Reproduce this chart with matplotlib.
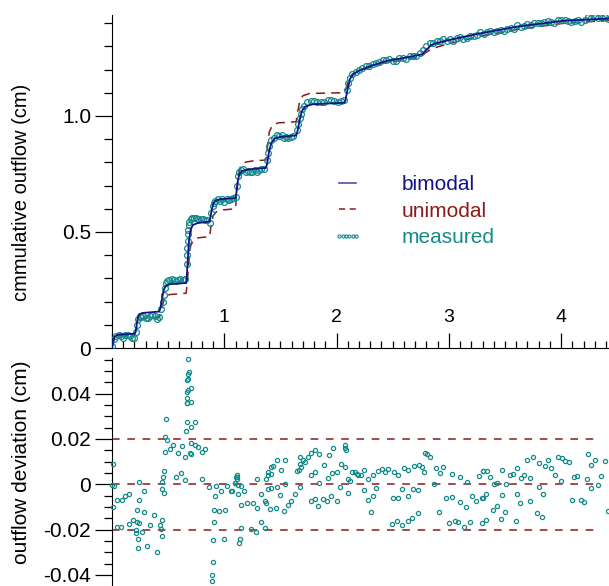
import matplotlib
matplotlib.use("Agg")
import matplotlib.pyplot as plt
from matplotlib.lines import Line2D
from matplotlib.ticker import MultipleLocator, FuncFormatter

plt.rcParams['font.family'] = ['Liberation Sans', 'DejaVu Sans']
plt.rcParams['axes.unicode_minus'] = False

# ---------------- data ----------------
t_bimodal = [0.0, 0.01, 0.025, 0.06, 0.20,
             0.21, 0.22, 0.23, 0.245, 0.27, 0.42,
             0.43, 0.445, 0.46, 0.48, 0.51, 0.66,
             0.665, 0.675, 0.685, 0.70, 0.72, 0.76, 0.87,
             0.875, 0.89, 0.905, 0.93, 0.98, 1.10,
             1.105, 1.12, 1.135, 1.16, 1.22, 1.37,
             1.38, 1.40, 1.42, 1.45, 1.50, 1.64,
             1.65, 1.67, 1.69, 1.72, 1.78, 2.07,
             2.08, 2.10, 2.12, 2.15, 2.20, 2.30, 2.45, 2.60, 2.76, 2.80, 2.84, 2.90,
             2.98, 3.28, 3.61, 4.02, 4.43]
q_bimodal = [0.0, 0.03, 0.05, 0.058, 0.061,
             0.07, 0.10, 0.13, 0.145, 0.151, 0.157,
             0.17, 0.21, 0.25, 0.268, 0.275, 0.28,
             0.30, 0.38, 0.46, 0.51, 0.53, 0.538, 0.545,
             0.56, 0.60, 0.625, 0.637, 0.642, 0.646,
             0.66, 0.72, 0.75, 0.763, 0.77, 0.776,
             0.79, 0.85, 0.885, 0.903, 0.91, 0.916,
             0.93, 0.98, 1.02, 1.04, 1.05, 1.057,
             1.07, 1.12, 1.16, 1.18, 1.195, 1.215, 1.238, 1.25, 1.265, 1.285, 1.305, 1.315,
             1.325, 1.356, 1.385, 1.41, 1.42]

t_unimodal = [0.0, 0.015, 0.035, 0.07, 0.20, 0.21, 0.225, 0.24, 0.27, 0.42,
              0.435, 0.455, 0.475, 0.51, 0.66, 0.67, 0.685, 0.70, 0.725, 0.77,
              0.87, 0.88, 0.90, 0.93, 0.99, 1.10, 1.11, 1.125, 1.145, 1.18,
              1.25, 1.37, 1.38, 1.40, 1.43, 1.48, 1.64, 1.65, 1.675, 1.70,
              1.76, 2.07, 2.085, 2.11, 2.14, 2.20, 2.40, 2.75, 2.80, 2.85,
              3.0, 3.3, 3.6, 4.0, 4.43]
q_unimodal = [0.0, 0.03, 0.048, 0.052, 0.055, 0.07, 0.10, 0.118, 0.127, 0.131,
              0.15, 0.195, 0.22, 0.23, 0.236, 0.28, 0.38, 0.44, 0.465, 0.475,
              0.48, 0.52, 0.57, 0.587, 0.595, 0.60, 0.66, 0.74, 0.785, 0.80,
              0.806, 0.81, 0.85, 0.93, 0.962, 0.97, 0.975, 1.01, 1.07, 1.087,
              1.097, 1.10, 1.12, 1.16, 1.18, 1.195, 1.225, 1.255, 1.275, 1.29,
              1.312, 1.345, 1.372, 1.398, 1.412]

t_measured = [0.0, 0.02, 0.04, 0.06, 0.08, 0.10, 0.12, 0.14, 0.16, 0.18, 0.20,
              0.215, 0.225, 0.235, 0.245,
              0.26, 0.28, 0.30, 0.32, 0.34, 0.36, 0.38, 0.40, 0.42,
              0.44, 0.45, 0.46, 0.47, 0.48, 0.49,
              0.51, 0.53, 0.55, 0.57, 0.59, 0.61, 0.63, 0.65,
              0.665, 0.668, 0.671, 0.674, 0.677, 0.68, 0.685, 0.69, 0.70, 0.71,
              0.73, 0.75, 0.77, 0.79, 0.81, 0.83, 0.85,
              0.87, 0.885, 0.895, 0.905, 0.92,
              0.94, 0.96, 0.98, 1.0, 1.02, 1.04, 1.06, 1.08, 1.10,
              1.11, 1.12, 1.13,
              1.15, 1.17, 1.19, 1.21, 1.23, 1.25, 1.27, 1.29, 1.31, 1.33, 1.35,
              1.38, 1.39, 1.40, 1.42, 1.44,
              1.47, 1.49, 1.51, 1.53, 1.55, 1.57, 1.59, 1.61,
              1.65, 1.66, 1.67, 1.68, 1.69, 1.71,
              1.74, 1.77, 1.80, 1.83, 1.86, 1.89, 1.92, 1.95, 1.98, 2.01, 2.04, 2.07,
              2.09, 2.10, 2.12, 2.14,
              2.17, 2.20, 2.23, 2.26, 2.29, 2.32, 2.35, 2.38, 2.41, 2.44, 2.47, 2.50,
              2.53, 2.56, 2.59, 2.62, 2.65, 2.68, 2.71, 2.74, 2.77, 2.80, 2.83, 2.86,
              2.89, 2.92, 2.95, 2.98, 3.01, 3.04, 3.07, 3.10, 3.13, 3.16, 3.19, 3.22,
              3.25, 3.28, 3.31, 3.34, 3.37, 3.40, 3.43, 3.46, 3.49, 3.52, 3.55, 3.58,
              3.61, 3.64, 3.67, 3.70, 3.73, 3.76, 3.79, 3.82, 3.85, 3.88, 3.91, 3.94,
              3.97, 4.00, 4.03, 4.06, 4.09, 4.12, 4.15, 4.18, 4.21, 4.24, 4.27, 4.30,
              4.33, 4.36, 4.39, 4.42]
q_measured = [0.01, 0.04, 0.052, 0.058, 0.05, 0.045, 0.055, 0.056, 0.05, 0.045, 0.044,
              0.07, 0.10, 0.125, 0.14,
              0.135, 0.14, 0.13, 0.128, 0.14, 0.142, 0.138, 0.127, 0.135,
              0.17, 0.20, 0.23, 0.26, 0.28, 0.29,
              0.292, 0.296, 0.295, 0.29, 0.293, 0.297, 0.295, 0.297,
              0.36, 0.40, 0.43, 0.46, 0.49, 0.51, 0.53, 0.545, 0.555, 0.56,
              0.56, 0.56, 0.557, 0.555, 0.555, 0.552, 0.55,
              0.54, 0.58, 0.61, 0.625, 0.635,
              0.64, 0.632, 0.642, 0.628, 0.644, 0.638, 0.64, 0.645, 0.65,
              0.70, 0.74, 0.76,
              0.765, 0.77, 0.76, 0.762, 0.758, 0.76, 0.765, 0.76, 0.765, 0.77, 0.77,
              0.81, 0.84, 0.87, 0.895, 0.905,
              0.92, 0.915, 0.92, 0.905, 0.91, 0.905, 0.91, 0.913,
              0.94, 0.965, 0.99, 1.01, 1.03, 1.045,
              1.06, 1.063, 1.065, 1.06, 1.062, 1.058, 1.067, 1.07, 1.066, 1.062, 1.065, 1.07,
              1.11, 1.14, 1.165, 1.18,
              1.19, 1.20, 1.208, 1.214, 1.216, 1.222, 1.226, 1.232, 1.24, 1.24, 1.245, 1.236,
              1.235, 1.248, 1.25, 1.245, 1.258, 1.26, 1.26, 1.27, 1.285, 1.30, 1.315, 1.315,
              1.325, 1.323, 1.33, 1.325, 1.33, 1.325, 1.335, 1.34, 1.33, 1.335, 1.345, 1.345,
              1.35, 1.36, 1.355, 1.362, 1.365, 1.36, 1.365, 1.37, 1.365, 1.375, 1.378, 1.376,
              1.39, 1.385, 1.388, 1.398, 1.39, 1.402, 1.40, 1.402, 1.405, 1.408, 1.405, 1.402,
              1.415, 1.415, 1.414, 1.41, 1.405, 1.41, 1.412, 1.405, 1.412, 1.425, 1.42, 1.425,
              1.42, 1.424, 1.428, 1.418]

t_dev = [0.009, 0.003, 0.015, 0.006, 0.047, 0.089, 0.119, 0.151, 0.047, 0.083,
         0.187, 0.151, 0.223, 0.237, 0.217, 0.217, 0.27, 0.235, 0.232, 0.315,
         0.404, 0.24, 0.285, 0.243, 0.282, 0.223, 0.374, 0.341, 0.43, 0.448,
         0.439, 0.445, 0.484, 0.469, 0.487, 0.543, 0.516, 0.469, 0.448, 0.448,
         0.457, 0.463, 0.463, 0.588, 0.623, 0.70, 0.736, 0.766, 0.70, 0.692,
         0.653, 0.662, 0.703, 0.739, 0.665, 0.801, 0.831, 0.573, 0.614, 0.653,
         0.801, 0.677, 0.683, 0.677, 0.671, 0.677, 0.706, 0.677, 0.668, 0.668,
         0.665, 0.671, 0.706, 0.864, 0.914, 0.929, 0.974, 1.027, 1.062, 1.092,
         1.101, 0.905, 0.953, 1.009, 0.905, 0.899, 1.0, 0.899, 0.893, 0.888,
         1.069, 1.11, 1.11, 1.11, 1.092, 1.122, 1.151, 1.119, 1.175, 1.149,
         1.202, 1.256, 1.291, 1.146, 1.14, 1.134, 1.238, 1.285, 1.327, 1.362,
         1.294, 1.33, 1.369, 1.374, 1.389, 1.392, 1.416, 1.419, 1.437, 1.469,
         1.502, 1.54, 1.386, 1.413, 1.466, 1.538, 1.407, 1.463, 1.499, 1.532,
         1.567, 1.597, 1.627, 1.671, 1.648, 1.668, 1.686, 1.677, 1.674, 1.698,
         1.716, 1.745, 1.775, 1.808, 1.846, 1.772, 1.805, 1.843, 1.885, 1.923,
         1.929, 1.968, 1.959, 2.006, 2.042, 2.072, 2.075, 2.078, 2.081, 2.033,
         2.101, 1.769, 1.805, 1.837, 1.876, 1.917, 1.953, 2.001, 2.104, 2.122,
         2.137, 2.161, 2.188, 1.365,
         2.179, 2.215, 2.247, 2.28, 2.324, 2.369, 2.402, 2.431, 2.458, 2.508,
         2.544, 2.6, 2.639, 2.689, 2.731, 2.76, 2.781, 2.784, 2.805, 2.835,
         2.885, 2.918, 2.945, 2.867, 3.025, 3.099, 3.159, 3.265, 3.301, 2.241,
         2.277, 2.321, 2.354, 2.306, 2.499, 2.544, 2.582, 2.639, 2.677, 2.728,
         2.491, 2.538, 2.579, 2.632, 2.671, 2.722, 2.912, 2.974, 3.025, 3.096,
         3.155, 3.004, 3.054, 3.084, 3.132, 3.191, 3.209, 3.241, 3.295, 3.295,
         3.304, 3.339, 3.366, 3.402, 3.431, 3.473, 3.509, 3.541, 3.568, 3.606,
         3.639, 3.666, 3.696, 3.725, 3.749, 3.802, 3.853, 3.885, 3.912, 3.942,
         3.972, 4.007, 4.037, 4.067, 4.001, 3.8, 3.841, 3.603, 3.722, 3.636,
         3.47, 3.333, 3.304, 3.428, 3.396, 3.502, 3.464, 3.33, 3.598, 3.782,
         3.832, 4.096, 4.114, 4.144, 4.176, 4.206, 4.227, 4.236, 4.268, 4.298,
         4.265, 4.331, 4.357, 4.387, 4.414]
dev = [0.0088, -0.0003, -0.0007, -0.0099, -0.0069, -0.0069, -0.0051, -0.0044, -0.0187, -0.0187,
       -0.0157, -0.0175, -0.0165, -0.0169, -0.0204, -0.0216, -0.0212, -0.024, -0.0281, -0.0274,
       -0.0299, -0.0069, -0.0029, 0.0012, -0.0124, -0.0113, -0.0135, -0.0179, -0.0178, -0.0156,
       -0.0199, -0.0228, 0.0288, 0.0209, 0.0196, 0.0174, 0.0156, 0.0144, 0.0009, -0.0021,
       0.0031, 0.0059, -0.0038, 0.014, 0.0169, 0.0182, 0.0171, 0.0165, 0.0134, 0.0137,
       0.0121, 0.0235, 0.0254, 0.0275, 0.0276, 0.0144, 0.0156, 0.0034, 0.005, 0.0018,
       0.0024, 0.0551, 0.0497, 0.0487, 0.046, 0.0465, 0.0426, 0.0418, 0.0406, 0.0379,
       0.036, 0.0357, 0.0363, -0.0013, -0.0051, -0.0006, -0.0028, -0.0006, -0.0029, 0.0004,
       0.0034, -0.0113, -0.0118, -0.0112, -0.0168, -0.0246, -0.0243, -0.0344, -0.04, -0.0426,
       -0.0029, 0.0041, 0.0032, 0.0024, 0.0006, -0.0003, -0.0006, -0.0044, -0.0029, -0.0091,
       -0.0081, -0.0081, -0.0106, -0.0193, -0.0241, -0.026, -0.0199, -0.0209, -0.0168, -0.0194,
       0.0022, -0.0044, -0.0082, 0.0024, 0.0053, 0.0041, 0.0044, 0.0074, 0.0082, 0.0107,
       0.0062, 0.0107, -0.0021, -0.0015, -0.0013, -0.0001, -0.0109, -0.0103, -0.0049, -0.0118,
       -0.009, -0.0072, -0.0044, -0.0012, 0.0057, 0.0065, 0.0074, 0.009, 0.0118, 0.0107,
       0.01, 0.0122, 0.0137, 0.0151, 0.0135, 0.0041, 0.0053, 0.0006, 0.0085, 0.0026,
       0.0131, 0.0159, 0.0051, 0.0053, 0.0088, 0.0074, 0.0175, 0.0162, 0.0149, -0.0012,
       -0.0037, -0.0072, -0.0065, -0.0094, -0.0065, -0.0075, -0.0051, -0.0076, 0.0024, 0.0015,
       0.0053, 0.0053, 0.0041, -0.0076,
       0.0044, 0.0041, 0.0065, 0.0025, 0.0041, 0.0057, 0.0066, 0.0053, 0.0068, 0.0053,
       0.0041, 0.0071, 0.0063, 0.0081, 0.0084, 0.0076, 0.0056, 0.014, 0.0135, 0.0118,
       0.0072, 0.0049, 0.0076, -0.0001, 0.0044, 0.0031, 0.001, 0.0037, 0.0057, -0.0025,
       -0.0069, -0.005, -0.0018, -0.0121, -0.006, -0.0059, -0.0021, -0.0051, -0.0021, -0.0025,
       -0.0175, -0.0163, -0.0178, -0.0163, -0.0147, -0.0129, -0.0122, -0.0059, -0.0056, -0.0079,
       -0.0101, -0.0169, -0.016, -0.0168, -0.0187, -0.0165, -0.0051, -0.0074, -0.0059, -0.0171,
       0.0057, 0.0057, 0.0034, -0.0001, 0.0006, 0.0065, -0.0001, 0.0041, 0.0044, 0.0072,
       0.0029, 0.004, 0.0109, 0.0028, 0.0119, 0.0093, 0.0081, 0.0106, 0.0071, 0.004,
       0.0121, 0.0115, 0.0103, 0.0096, 0.0015, -0.001, -0.0043, -0.0043, -0.0075, -0.0081,
       -0.0047, -0.0044, -0.0059, -0.0097, -0.0113, -0.0121, -0.0154, -0.0157, -0.0162, -0.0128,
       -0.0146, -0.0069, 0.0031, 0.0038, -0.0069, -0.0078, 0.0025, 0.0135, 0.0087, 0.0106,
       -0.0016, -0.0004, 0.0038, 0.0104, -0.0118]

dev_ref_levels = [0.02, 0.0, -0.02]
series_labels = ['bimodal', 'unimodal', 'measured']

# ---------------- style ----------------
c_bi = '#12128a'
c_uni = '#8b1a1a'
c_meas = '#138b8b'
fs_tick = 15
fs_lab = 14.5
fs_leg = 15

W, H = 609, 586
fig = plt.figure(figsize=(W / 100, H / 100), dpi=100)
ax1 = fig.add_axes([112 / W, 1 - 348 / H, 497 / W, 333 / H])
ax2 = fig.add_axes([112 / W, 0.0, 497 / W, 228 / H])

# ---------- top panel ----------
ax1.plot(t_unimodal, q_unimodal, color=c_uni, lw=1.1, dashes=(6, 4), zorder=2)
ax1.plot(t_measured, q_measured, linestyle='none', marker='o', ms=4.2, mfc='none',
         mec=c_meas, mew=0.9, zorder=3)
ax1.plot(t_bimodal, q_bimodal, color=c_bi, lw=1.3, zorder=4)

ax1.set_xlim(0, 4.426)
ax1.set_ylim(0, 1.435)
for s in ['top', 'right']:
    ax1.spines[s].set_visible(False)
ax1.xaxis.set_major_locator(MultipleLocator(1))
ax1.xaxis.set_minor_locator(MultipleLocator(0.1))
ax1.xaxis.set_major_formatter(FuncFormatter(lambda v, p: '' if abs(v) < 1e-9 else f'{v:.0f}'))
ax1.yaxis.set_major_locator(MultipleLocator(0.5))
ax1.yaxis.set_minor_locator(MultipleLocator(0.1))
ax1.yaxis.set_major_formatter(FuncFormatter(lambda v, p: '0' if abs(v) < 1e-9 else f'{v:.1f}'))
ax1.tick_params(axis='x', which='major', direction='in', length=11, width=0.9,
                pad=-28, labelsize=14)
ax1.tick_params(axis='x', which='minor', direction='in', length=5, width=0.9)
ax1.tick_params(axis='y', which='major', direction='out', length=12, width=0.9,
                pad=3, labelsize=fs_tick)
ax1.tick_params(axis='y', which='minor', direction='out', length=6, width=0.9)
ax1.set_ylabel('cmmulative outflow (cm)', fontsize=fs_lab)
ax1.yaxis.set_label_coords(-0.163, 0.467)
ax1.set_xlabel('t (h)', fontsize=fs_lab)
ax1.xaxis.set_label_coords(0.503, -0.05)

handles = [Line2D([], [], color='#5050a8', lw=1.2),
           Line2D([], [], color=c_uni, lw=1.1, dashes=(4, 3)),
           Line2D([], [], linestyle='none', marker='o', ms=2.2, mfc='none',
                  mec=c_meas, mew=0.8)]
leg = ax1.legend(handles, series_labels, loc='center left',
                 bbox_to_anchor=(0.445, 0.411), frameon=False, fontsize=fs_leg,
                 handlelength=1.4, handletextpad=1.9, labelspacing=0.37,
                 borderpad=0, borderaxespad=0, numpoints=6)
for txt, col in zip(leg.get_texts(), [c_bi, c_uni, c_meas]):
    txt.set_color(col)

# ---------- bottom panel ----------
for lvl in dev_ref_levels:
    ax2.axhline(lvl, xmin=0, xmax=0.98, color=c_uni, lw=1.1, dashes=(5, 5), zorder=1)
ax2.plot(t_dev, dev, linestyle='none', marker='o', ms=3.0, mfc='none',
         mec=c_meas, mew=0.9, zorder=3, clip_on=False)
ax2.set_xlim(0, 4.426)
ax2.set_ylim(-0.0449, 0.0557)
for s in ['top', 'right', 'bottom']:
    ax2.spines[s].set_visible(False)
ax2.set_xticks([])
ax2.yaxis.set_major_locator(MultipleLocator(0.02))
ax2.yaxis.set_minor_locator(MultipleLocator(0.005))
ax2.yaxis.set_major_formatter(FuncFormatter(lambda v, p: '0' if abs(v) < 1e-9 else f'{v:.2f}'))
ax2.tick_params(axis='y', which='major', direction='out', length=12, width=0.9,
                pad=3, labelsize=fs_tick)
ax2.tick_params(axis='y', which='minor', direction='out', length=6, width=0.9)
ax2.set_ylabel('outflow deviation (cm)', fontsize=15)
ax2.yaxis.set_label_coords(-0.163, 0.544)

fig.savefig('out.png', dpi=100)
